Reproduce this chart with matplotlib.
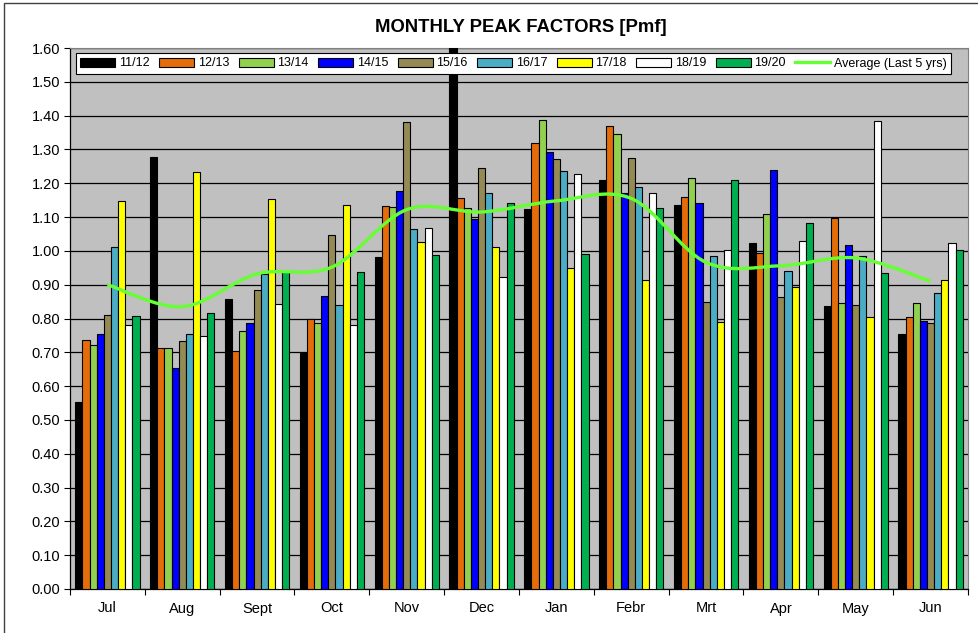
import matplotlib.pyplot as plt
import numpy as np
from matplotlib.path import Path
from matplotlib.patches import PathPatch, Rectangle

plt.rcParams['font.family'] = ['Liberation Sans', 'DejaVu Sans']

# data
months = ['Jul', 'Aug', 'Sept', 'Oct', 'Nov', 'Dec', 'Jan', 'Febr', 'Mrt', 'Apr', 'May', 'Jun']
seasons = ['11/12', '12/13', '13/14', '14/15', '15/16', '16/17', '17/18', '18/19', '19/20']

s1112 = [0.552, 1.278, 0.857, 0.699, 0.982, 1.620, 1.124, 1.211, 1.135, 1.022, 0.837, 0.754]
s1213 = [0.736, 0.713, 0.704, 0.800, 1.132, 1.157, 1.319, 1.370, 1.159, 0.994, 1.097, 0.804]
s1314 = [0.721, 0.712, 0.763, 0.786, 1.129, 1.127, 1.386, 1.345, 1.215, 1.109, 0.845, 0.845]
s1415 = [0.753, 0.654, 0.787, 0.866, 1.176, 1.094, 1.291, 1.172, 1.142, 1.240, 1.018, 0.792]
s1516 = [0.810, 0.733, 0.883, 1.047, 1.380, 1.244, 1.271, 1.275, 0.850, 0.863, 0.840, 0.786]
s1617 = [1.011, 0.753, 0.931, 0.839, 1.066, 1.170, 1.236, 1.188, 0.986, 0.941, 0.984, 0.874]
s1718 = [1.147, 1.234, 1.153, 1.137, 1.027, 1.011, 0.950, 0.915, 0.791, 0.893, 0.804, 0.915]
s1819 = [0.780, 0.748, 0.844, 0.780, 1.068, 0.922, 1.226, 1.171, 1.004, 1.029, 1.384, 1.023]
s1920 = [0.806, 0.815, 0.938, 0.938, 0.989, 1.141, 0.990, 1.126, 1.210, 1.081, 0.936, 1.004]
avg5 = [0.900, 0.835, 0.932, 0.952, 1.122, 1.115, 1.148, 1.155, 0.966, 0.956, 0.979, 0.910]

series = [s1112, s1213, s1314, s1415, s1516, s1617, s1718, s1819, s1920]
colors = ['#000000', '#E46C0A', '#92D050', '#0000FF', '#948A54',
          '#4BACC6', '#FFFF00', '#FFFFFF', '#00B050']

fig = plt.figure(figsize=(9.79, 6.33), dpi=100)
ax = fig.add_axes([70/979, 44/633, 898/979, 541/633])
ax.set_facecolor('#C0C0C0')

x = np.arange(len(months))
w = 0.0953
handles = []
for j, (vals, c, lab) in enumerate(zip(series, colors, seasons)):
    b = ax.bar(x + (j - 4) * w, vals, w, color=c, edgecolor='black', linewidth=0.8,
               label=lab, zorder=3)
    handles.append(b)

# smoothed average line (bezier through the points, like excel)
pts = np.column_stack([x, avg5]).astype(float)
verts = [pts[0]]
codes = [Path.MOVETO]
n = len(pts)
for i in range(n - 1):
    p0 = pts[max(i - 1, 0)]
    p1 = pts[i]
    p2 = pts[i + 1]
    p3 = pts[min(i + 2, n - 1)]
    verts += [p1 + (p2 - p0) / 6, p2 - (p3 - p1) / 6, p2]
    codes += [Path.CURVE4] * 3
ax.add_patch(PathPatch(Path(verts, codes), facecolor='none', edgecolor='#66FF33',
                       linewidth=2.4, zorder=4))
ln, = ax.plot([], [], color='#66FF33', linewidth=2.4, label='Average (Last 5 yrs)')
handles.append(ln)

ax.set_xlim(-0.5, 11.5)
ax.set_ylim(0, 1.6)
ax.set_yticks(np.arange(0, 1.61, 0.1))
ax.set_yticklabels(['%.2f' % v for v in np.arange(0, 1.61, 0.1)])
ax.yaxis.grid(True, color='black', linewidth=0.9, zorder=1)
ax.set_axisbelow(True)
ax.set_xticks(x)
ax.set_xticklabels(months)
ax.set_xticks(np.arange(-0.5, 12, 1), minor=True)
ax.tick_params(axis='x', which='major', length=0, labelsize=10.5, pad=9)
ax.tick_params(axis='x', which='minor', length=4, width=0.8, direction='out')
ax.tick_params(axis='y', length=4, width=0.8, direction='out', labelsize=10.5, pad=3)
for s in ['left', 'bottom']:
    ax.spines[s].set_linewidth(0.9)
    ax.spines[s].set_color('black')
for s in ['top', 'right']:
    ax.spines[s].set_color('#808080')
    ax.spines[s].set_linewidth(0.8)

fig.text(521/979, 1 - 28/633, 'MONTHLY PEAK FACTORS [Pmf]', ha='center', va='center',
         fontsize=13.3, fontweight='bold')

leg = fig.legend(handles, [h.get_label() for h in handles], loc='center',
                 bbox_to_anchor=(513.5/979, 1 - 63.5/633), ncol=10,
                 fontsize=9, frameon=True, fancybox=False, shadow=False,
                 handlelength=2.8, handletextpad=0.3, columnspacing=0.75,
                 borderpad=0.35, framealpha=1)
leg.get_frame().set_edgecolor('black')
leg.get_frame().set_linewidth(0.8)

# outer chart border
fig.patches.append(Rectangle((4.5/979, -0.05), 1.2, 1 - 3/633 + 0.05,
                             transform=fig.transFigure, fill=False,
                             edgecolor='#404040', linewidth=1))

plt.savefig('out.png', dpi=100)
